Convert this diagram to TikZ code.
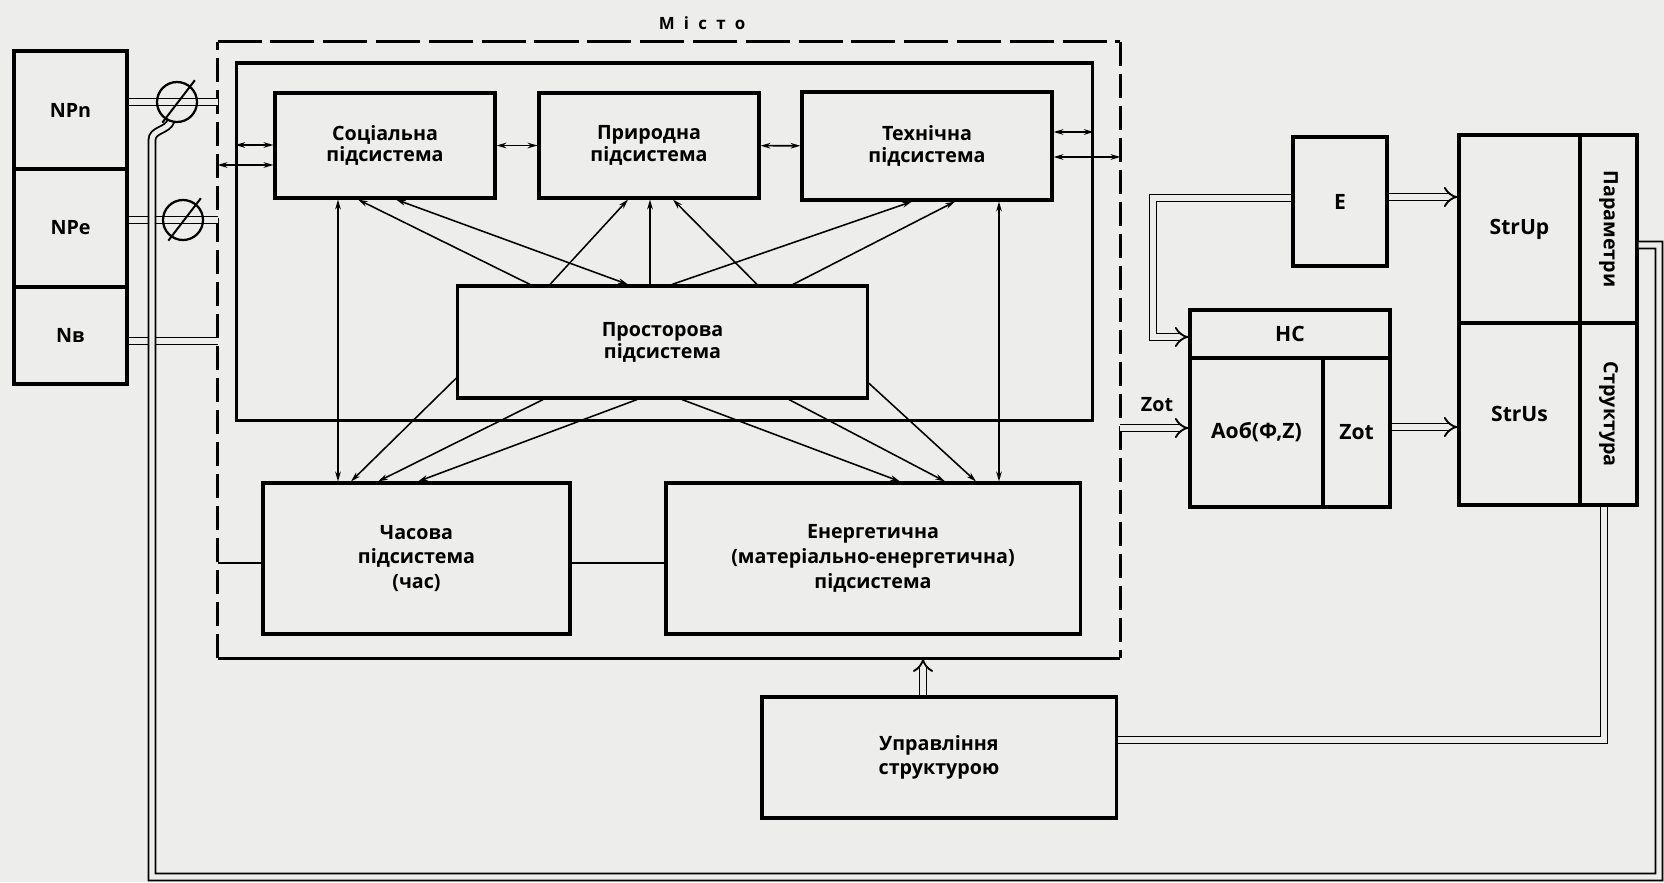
\documentclass[tikz,border=0pt]{standalone}
\usepackage{fontspec}
\setmainfont{Open Sans}
\usepackage{tikz}
\usetikzlibrary{arrows.meta, positioning, shapes.geometric}
\definecolor{paper}{HTML}{EDEEEB}

\begin{document}
\begin{tikzpicture}[
  x=0.025cm, y=-0.025cm,
  box/.style={rectangle, draw, line width=2.2pt, fill=paper, align=center, inner sep=1pt, font=\fontsize{14}{15.5}\selectfont\bfseries},
  lowbox/.style={box, font=\fontsize{14}{17.5}\selectfont\bfseries},
  rbox/.style={box, font=\fontsize{15}{17}\selectfont\bfseries},
  arrow/.style={-{Stealth[length=7pt,width=4pt]}, line width=1.1pt},
  biarrow/.style={{Stealth[length=7pt,width=4pt]}-{Stealth[length=7pt,width=4pt]}, line width=1.1pt},
  link/.style={line width=1.3pt},
  dbl/.style={double=paper, double distance=3.6pt, line width=1.3pt},
  dblarrow/.style={dbl, -{Implies}},
  sidedash/.style={line width=2.2pt, dash pattern=on 0.6cm off 0.2cm},
  topdash/.style={line width=2.2pt, dash pattern=on 1.1cm off 0.22cm},
  regul/.style={circle, draw, line width=1.6pt, minimum size=1cm, inner sep=0pt},
  lbl/.style={font=\fontsize{14}{16}\selectfont\bfseries}
]
  \fill[paper] (0,0) rectangle (1664,882);
  \useasboundingbox (0,0) rectangle (1664,882);

  % misto
  \node[inner sep=0pt, minimum width=22.55cm, minimum height=15.4cm] (city) at (669,350) {};
  \draw[sidedash] (city.south west) -- (city.north west);
  \draw[sidedash] (city.north east) -- (city.south east);
  \draw[topdash] (city.north west) -- (city.north east);
  \draw[line width=2.2pt] (city.south west) -- (city.south east);
  \node[font=\fontsize{12}{14}\selectfont\bfseries\addfontfeatures{LetterSpace=55}] (citylbl) at (702,23) {Місто};

  \node[box, minimum width=21.375cm, minimum height=8.925cm] (inner) at (664.5,241.5) {};

  \node[box, minimum width=5.5cm, minimum height=2.625cm] (soc) at (385,145.5) {Соціальна\\підсистема};
  \node[box, minimum width=5.5cm, minimum height=2.625cm] (prir) at (649,145.5) {Природна\\підсистема};
  \node[box, minimum width=6.25cm, minimum height=2.7cm] (tech) at (927,146) {Технічна\\підсистема};
  \node[box, minimum width=10.225cm, minimum height=2.8cm] (prost) at (662.5,342) {Просторова\\підсистема};
  \node[lowbox, minimum width=7.675cm, minimum height=3.775cm] (chas) at (416.5,558.5) {Часова\\підсистема\\(час)};
  \node[lowbox, minimum width=10.35cm, minimum height=3.775cm] (energ) at (873,558.5) {Енергетична\\(матеріально-енергетична)\\підсистема};
  \node[lowbox, minimum width=8.85cm, minimum height=3.025cm] (upr) at (939,757.5) {Управління\\структурою};

  % zovnishni
  \node[box, minimum width=2.825cm, minimum height=2.95cm] (npn) at (70.5,110) {NPn};
  \node[box, minimum width=2.825cm, minimum height=2.95cm] (npe) at (70.5,228) {NPe};
  \node[box, minimum width=2.825cm, minimum height=2.425cm] (nv) at (70.5,335.5) {Nв};

  % prava chastyna
  \node[rbox, minimum width=2.35cm, minimum height=3.225cm] (e) at (1340,201.5) {E};
  \node[rbox, minimum width=5cm, minimum height=1.2cm] (hc) at (1290,334) {НС};
  \node[rbox, minimum width=3.325cm, minimum height=3.725cm] (aob) at (1256.5,432.5) {Аоб(Ф,Z)};
  \node[rbox, minimum width=1.675cm, minimum height=3.725cm] (zotc) at (1356.5,432.5) {Zot};
  \node[rbox, minimum width=3.025cm, minimum height=4.7cm] (strup) at (1519.5,229) {StrUp};
  \node[box, minimum width=1.425cm, minimum height=4.7cm] (param) at (1608.5,229) {\rotatebox{-90}{Параметри}};
  \node[rbox, minimum width=3.025cm, minimum height=4.55cm] (strus) at (1519.5,414) {StrUs};
  \node[box, minimum width=1.425cm, minimum height=4.55cm] (struct) at (1608.5,414) {\rotatebox{-90}{Структура}};
  \node[lbl] (zotlbl) at (1157,405) {Zot};

  % vhody
  \draw[dbl] (npn.east |- 0,102) -- (city.west |- 0,102);
  \draw[dbl] (npe.east |- 0,220) -- (city.west |- 0,220);
  \draw[dbl] (nv.east |- 0,341) -- (city.west |- 0,341);
  \draw[dbl] (param.east |- 0,245) -- (1659,245) -- (1659,877) -- (152,877) -- (152,140) to[out=90,in=-110] (171,121);
  \node[regul] (regn) at (177,102) {};
  \node[regul] (rege) at (183,220) {};
  \draw[line width=1.4pt, shorten <=-3pt, shorten >=-5pt] (regn.235) -- (regn.50);
  \draw[line width=1.4pt, shorten <=-3pt, shorten >=-5pt] (rege.235) -- (rege.50);

  % verhnii riad
  \draw[biarrow] (inner.west |- 0,145) -- (soc.west |- 0,145);
  \draw[biarrow] (city.west |- 0,165) -- (soc.west |- 0,165);
  \draw[biarrow] (soc) -- (prir);
  \draw[biarrow] (prir) -- (tech);
  \draw[biarrow] (tech.east |- 0,132) -- (inner.east |- 0,132);
  \draw[biarrow] (tech.east |- 0,157) -- (city.east |- 0,157);

  % prostorova
  \draw[biarrow] (soc.south -| 338,0) -- (chas.north -| 338,0);
  \draw[biarrow] (tech.south -| 999,0) -- (energ.north -| 999,0);
  \draw[arrow] (prost.north -| 650,0) -- (prir.south -| 650,0);
  \draw[arrow] (prost.north -| 530,0) -- (soc.south -| 358,0);
  \draw[biarrow] (soc.south -| 396,0) -- (prost.north -| 628,0);
  \draw[arrow] (prost.north -| 550,0) -- (prir.south -| 628,0);
  \draw[arrow] (prost.north -| 757,0) -- (prir.south -| 673,0);
  \draw[arrow] (prost.north -| 672,0) -- (tech.south -| 912,0);
  \draw[arrow] (prost.north -| 793,0) -- (tech.south -| 955,0);
  \draw[arrow] (prost.west |- 0,378) -- (chas.north -| 351,0);
  \draw[arrow] (prost.south -| 543,0) -- (chas.north -| 378,0);
  \draw[arrow] (prost.south -| 637,0) -- (chas.north -| 418,0);
  \draw[arrow] (prost.south -| 682,0) -- (energ.north -| 900,0);
  \draw[arrow] (prost.south -| 789,0) -- (energ.north -| 945,0);
  \draw[arrow] (prost.east |- 0,383) -- (energ.north -| 976,0);

  \draw[link] (city.west |- 0,563) -- (chas.west |- 0,563);
  \draw[link] (chas.east |- 0,563) -- (energ.west |- 0,563);

  % upravlinnia
  \draw[dblarrow] (upr.north -| 923,0) -- (city.south -| 923,0);
  \draw[dbl] (struct.south -| 1604,0) |- (upr.east |- 0,740);

  % potoky
  \draw[dblarrow] (e.west |- 0,198) -| (1153,337) -- (hc.west |- 0,337);
  \draw[dblarrow] (e.east |- 0,197) -- (strup.west |- 0,197);
  \draw[dblarrow] (zotc.east |- 0,427) -- (strus.west |- 0,427);
  \draw[dblarrow] (city.east |- 0,428) -- (aob.west |- 0,428);
\end{tikzpicture}
\end{document}
